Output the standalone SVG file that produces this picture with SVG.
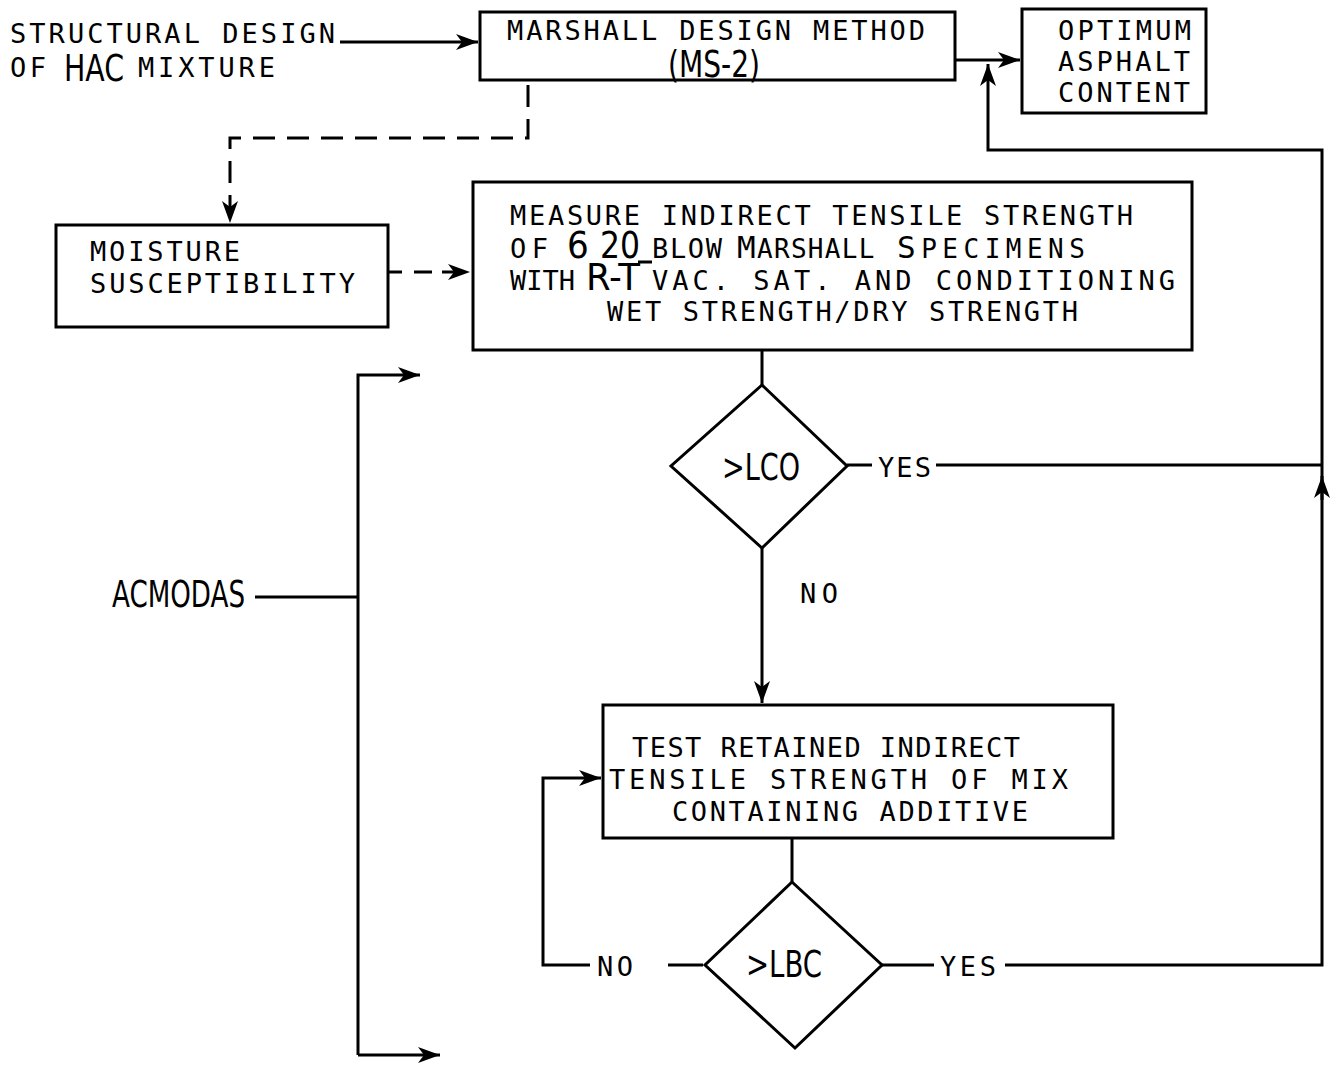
<svg xmlns="http://www.w3.org/2000/svg" width="1336" height="1072" viewBox="0 0 1336 1072">
  <style>
    .box { fill: #fff; stroke: #000; stroke-width: 3; }
    .ln { fill: none; stroke: #000; stroke-width: 3; }
    .dash { fill: none; stroke: #000; stroke-width: 3; stroke-dasharray: 22 12; }
    .t { font-family: "DejaVu Sans Mono", "Liberation Mono", monospace; font-size: 27px; fill: #000; }
    .big { font-family: "DejaVu Sans Condensed", "DejaVu Sans", sans-serif; font-size: 38px; fill: #000; }
  </style>
  <defs>
    <marker id="arr" markerUnits="userSpaceOnUse" markerWidth="24" markerHeight="18" refX="22" refY="9" orient="auto">
      <path d="M0,1 L22,9 L0,17 L6,9 Z" fill="#000"/>
    </marker>
  </defs>

  <!-- connectors -->
  <g id="connectors">
    <path class="ln" d="M340,42 H478" marker-end="url(#arr)"/>
    <path class="ln" d="M955,60 H1020" marker-end="url(#arr)"/>
    <path class="ln" d="M1005,965 H1322 V150 H988 V64" marker-end="url(#arr)"/>
    <path class="ln" d="M1322,500 V476" marker-end="url(#arr)"/>
    <path class="ln" d="M847,465 H872"/>
    <path class="ln" d="M936,465 H1322"/>
    <path class="dash" d="M528,85 V138 H230 V223" marker-end="url(#arr)"/>
    <path class="ln" d="M388,272 H402"/>
    <path class="ln" d="M414,272 H470" stroke-dasharray="18 10" marker-end="url(#arr)"/>
    <path class="ln" d="M762,350 V385"/>
    <path class="ln" d="M762,548 V703" marker-end="url(#arr)"/>
    <path class="ln" d="M792,838 V882"/>
    <path class="ln" d="M703,965 H668"/>
    <path class="ln" d="M590,965 H543 V778 H601" marker-end="url(#arr)"/>
    <path class="ln" d="M882,965 H934"/>
    <path class="ln" d="M255,597 H358"/>
    <path class="ln" d="M358,1055 V375 H420" marker-end="url(#arr)"/>
    <path class="ln" d="M358,1055 H440" marker-end="url(#arr)"/>
  </g>

  <!-- input label -->
  <g id="input">
    <text class="t" x="10" y="43" textLength="325" lengthAdjust="spacing">STRUCTURAL DESIGN</text>
    <text class="t" x="10" y="77" font-size="26" textLength="36" lengthAdjust="spacing">OF</text>
    <text class="big" x="64" y="81" font-size="30" textLength="60" lengthAdjust="spacingAndGlyphs">HAC</text>
    <text class="t" x="138" y="77" font-size="26" textLength="137" lengthAdjust="spacing">MIXTURE</text>
  </g>

  <g id="marshall">
    <rect class="box" x="480" y="12" width="475" height="68"/>
    <text class="t" x="507" y="40" textLength="418" lengthAdjust="spacing">MARSHALL DESIGN METHOD</text>
    <text class="big" x="668" y="77" font-size="28" textLength="92" lengthAdjust="spacingAndGlyphs">(MS-2)</text>
  </g>

  <g id="optimum">
    <rect class="box" x="1022" y="9" width="184" height="104"/>
    <text class="t" x="1058" y="40" textLength="133" lengthAdjust="spacing">OPTIMUM</text>
    <text class="t" x="1058" y="71" textLength="132" lengthAdjust="spacing">ASPHALT</text>
    <text class="t" x="1058" y="102" textLength="132" lengthAdjust="spacing">CONTENT</text>
  </g>

  <g id="moisture">
    <rect class="box" x="56" y="225" width="332" height="102"/>
    <text class="t" x="90" y="261" textLength="150" lengthAdjust="spacing">MOISTURE</text>
    <text class="t" x="90" y="293" textLength="265" lengthAdjust="spacing">SUSCEPTIBILITY</text>
  </g>

  <g id="measure">
    <rect class="box" x="473" y="182" width="719" height="168"/>
    <text class="t" x="510" y="225" textLength="623" lengthAdjust="spacing">MEASURE INDIRECT TENSILE STRENGTH</text>
    <text class="t" x="510" y="258" textLength="38" lengthAdjust="spacing">OF</text>
    <text class="big" x="567" y="258" font-size="27">6</text>
    <text class="big" x="600" y="258" font-size="27" textLength="40" lengthAdjust="spacingAndGlyphs">20</text>
    <path class="ln" d="M638,262 H652" stroke-width="2"/>
    <text class="t" x="652" y="258" font-size="22" textLength="70" lengthAdjust="spacing">BLOW</text>
    <text class="t" x="737" y="258" letter-spacing="1.3"><tspan font-size="31">M</tspan><tspan font-size="26">ARSHALL</tspan></text>
    <text class="t" x="897" y="258" letter-spacing="5.5"><tspan font-size="31">S</tspan><tspan font-size="26">PECIMENS</tspan></text>
    <text class="t" x="510" y="290" textLength="65" lengthAdjust="spacing">WITH</text>
    <text class="big" x="586" y="290" font-size="27" textLength="54" lengthAdjust="spacingAndGlyphs">R-T</text>
    <text class="t" x="652" y="290" textLength="523" lengthAdjust="spacing">VAC. SAT. AND CONDITIONING</text>
    <text class="t" x="607" y="321" textLength="471" lengthAdjust="spacing">WET STRENGTH/DRY STRENGTH</text>
  </g>

  <g id="lco">
    <polygon class="box" points="762,385 847,466 762,548 671,466"/>
    <text class="big" x="722" y="480" font-size="40" textLength="78" lengthAdjust="spacingAndGlyphs">&gt;LCO</text>
    <text class="t" x="878" y="477" textLength="53" lengthAdjust="spacing">YES</text>
    <text class="t" x="800" y="603" textLength="38" lengthAdjust="spacing">NO</text>
  </g>

  <g id="test">
    <rect class="box" x="603" y="705" width="510" height="133"/>
    <text class="t" x="632" y="757" textLength="388" lengthAdjust="spacing">TEST RETAINED INDIRECT</text>
    <text class="t" x="609" y="789" textLength="459" lengthAdjust="spacing">TENSILE STRENGTH OF MIX</text>
    <text class="t" x="672" y="821" textLength="356" lengthAdjust="spacing">CONTAINING ADDITIVE</text>
  </g>

  <g id="lbc">
    <polygon class="box" points="792,882 882,965 795,1048 705,965"/>
    <text class="big" x="746" y="977" font-size="40" textLength="76" lengthAdjust="spacingAndGlyphs">&gt;LBC</text>
    <text class="t" x="597" y="976" textLength="36" lengthAdjust="spacing">NO</text>
    <text class="t" x="940" y="976" textLength="56" lengthAdjust="spacing">YES</text>
  </g>

  <g id="acmodas">
    <text class="big" x="112" y="607" font-size="36" textLength="133" lengthAdjust="spacingAndGlyphs">ACMODAS</text>
  </g>
</svg>
